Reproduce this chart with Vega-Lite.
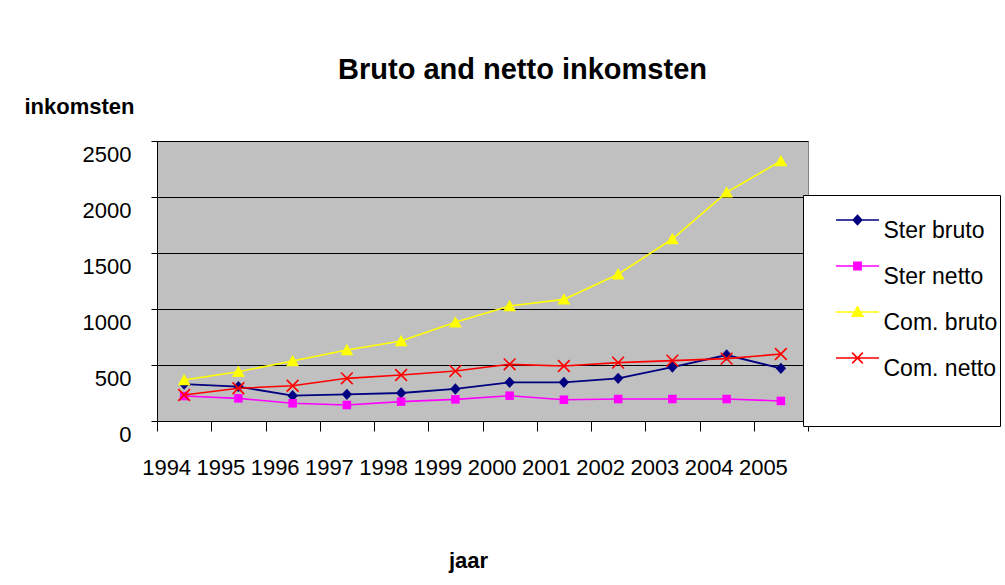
{
  "$schema": "https://vega.github.io/schema/vega-lite/v6.json",
  "width": 651,
  "height": 280,
  "autosize": {"type": "none"},
  "padding": {"left": 157, "top": 141, "right": 197, "bottom": 164},
  "background": "white",
  "config": {
    "font": "Liberation Sans",
    "view": {"fill": "#c0c0c0", "stroke": "#808080", "strokeWidth": 1}
  },
  "title": {
    "text": "Bruto and netto inkomsten",
    "fontSize": 29,
    "fontWeight": "bold",
    "font": "Liberation Sans",
    "color": "black",
    "anchor": "middle",
    "frame": "group",
    "dx": 40,
    "baseline": "alphabetic",
    "offset": -13
  },
  "data": {
    "values": [
      {"year": 1994, "series": "Ster bruto", "value": 330},
      {"year": 1995, "series": "Ster bruto", "value": 307},
      {"year": 1996, "series": "Ster bruto", "value": 226},
      {"year": 1997, "series": "Ster bruto", "value": 238},
      {"year": 1998, "series": "Ster bruto", "value": 250},
      {"year": 1999, "series": "Ster bruto", "value": 286},
      {"year": 2000, "series": "Ster bruto", "value": 345},
      {"year": 2001, "series": "Ster bruto", "value": 345},
      {"year": 2002, "series": "Ster bruto", "value": 381},
      {"year": 2003, "series": "Ster bruto", "value": 482},
      {"year": 2004, "series": "Ster bruto", "value": 589},
      {"year": 2005, "series": "Ster bruto", "value": 470},
      {"year": 1994, "series": "Ster netto", "value": 223},
      {"year": 1995, "series": "Ster netto", "value": 202},
      {"year": 1996, "series": "Ster netto", "value": 158},
      {"year": 1997, "series": "Ster netto", "value": 143},
      {"year": 1998, "series": "Ster netto", "value": 173},
      {"year": 1999, "series": "Ster netto", "value": 193},
      {"year": 2000, "series": "Ster netto", "value": 226},
      {"year": 2001, "series": "Ster netto", "value": 190},
      {"year": 2002, "series": "Ster netto", "value": 196},
      {"year": 2003, "series": "Ster netto", "value": 196},
      {"year": 2004, "series": "Ster netto", "value": 196},
      {"year": 2005, "series": "Ster netto", "value": 179},
      {"year": 1994, "series": "Com. bruto", "value": 366},
      {"year": 1995, "series": "Com. bruto", "value": 440},
      {"year": 1996, "series": "Com. bruto", "value": 536},
      {"year": 1997, "series": "Com. bruto", "value": 634},
      {"year": 1998, "series": "Com. bruto", "value": 714},
      {"year": 1999, "series": "Com. bruto", "value": 881},
      {"year": 2000, "series": "Com. bruto", "value": 1027},
      {"year": 2001, "series": "Com. bruto", "value": 1086},
      {"year": 2002, "series": "Com. bruto", "value": 1310},
      {"year": 2003, "series": "Com. bruto", "value": 1625},
      {"year": 2004, "series": "Com. bruto", "value": 2042},
      {"year": 2005, "series": "Com. bruto", "value": 2321},
      {"year": 1994, "series": "Com. netto", "value": 232},
      {"year": 1995, "series": "Com. netto", "value": 292},
      {"year": 1996, "series": "Com. netto", "value": 315},
      {"year": 1997, "series": "Com. netto", "value": 381},
      {"year": 1998, "series": "Com. netto", "value": 411},
      {"year": 1999, "series": "Com. netto", "value": 446},
      {"year": 2000, "series": "Com. netto", "value": 506},
      {"year": 2001, "series": "Com. netto", "value": 491},
      {"year": 2002, "series": "Com. netto", "value": 521},
      {"year": 2003, "series": "Com. netto", "value": 539},
      {"year": 2004, "series": "Com. netto", "value": 557},
      {"year": 2005, "series": "Com. netto", "value": 598}
    ]
  },
  "encoding": {
    "x": {
      "field": "year",
      "type": "ordinal",
      "scale": {"type": "band", "paddingInner": 0, "paddingOuter": 0},
      "axis": {
        "title": "jaar",
        "titleFontSize": 22,
        "titleFontWeight": "bold",
        "titleColor": "black",
        "titleX": 311,
        "titleY": 146,
        "titleAlign": "center",
        "titleBaseline": "alphabetic",
        "tickBand": "extent",
        "tickSize": 10,
        "tickColor": "black",
        "domainColor": "black",
        "labelFontSize": 22,
        "labelColor": "black",
        "labelAngle": 0,
        "labelOffset": -18,
        "labelPadding": 26,
        "labelOverlap": false,
        "grid": false
      }
    },
    "y": {
      "field": "value",
      "type": "quantitative",
      "scale": {"domain": [0, 2500], "nice": false},
      "axis": {
        "title": "inkomsten",
        "titleAngle": 0,
        "titleX": -78,
        "titleY": -28,
        "titleAlign": "center",
        "titleBaseline": "alphabetic",
        "titleFontSize": 22,
        "titleFontWeight": "bold",
        "titleColor": "black",
        "values": [0, 500, 1000, 1500, 2000, 2500],
        "format": "d",
        "grid": true,
        "gridColor": "black",
        "gridWidth": 1,
        "tickSize": 6,
        "tickColor": "black",
        "domainColor": "black",
        "labelFontSize": 22,
        "labelColor": "black",
        "labelOffset": 13,
        "labelPadding": 20
      }
    }
  },
  "layer": [
    {
      "transform": [{"filter": "datum.series == 'Ster bruto'"}],
      "mark": {"type": "line", "strokeWidth": 1.8, "color": "#000080",
        "point": {"filled": true, "opacity": 1, "size": 90, "color": "#000080", "shape": "M0,-1.2L1.1,0L0,1.2L-1.1,0Z"}}
    },
    {
      "transform": [{"filter": "datum.series == 'Ster netto'"}],
      "mark": {"type": "line", "strokeWidth": 1.6, "color": "#ff00ff",
        "point": {"filled": true, "opacity": 1, "size": 90, "color": "#ff00ff", "shape": "M-0.9,-0.9L0.9,-0.9L0.9,0.9L-0.9,0.9Z"}}
    },
    {
      "transform": [{"filter": "datum.series == 'Com. bruto'"}],
      "mark": {"type": "line", "strokeWidth": 1.6, "color": "#ffff00",
        "point": {"filled": true, "opacity": 1, "size": 90, "color": "#ffff00", "shape": "M0,-1.3L1.35,1.1L-1.35,1.1Z"}}
    },
    {
      "transform": [{"filter": "datum.series == 'Com. netto'"}],
      "mark": {"type": "line", "strokeWidth": 1.6, "color": "#ff0000",
        "point": {"filled": false, "opacity": 1, "size": 70, "strokeWidth": 1.6, "color": "#ff0000", "shape": "M-1.4,-1.4L1.4,1.4M-1.4,1.4L1.4,-1.4"}}
    },
    {
      "mark": {"type": "point", "filled": true, "opacity": 0},
      "encoding": {
        "color": {
          "field": "series",
          "type": "nominal",
          "scale": {
            "domain": ["Ster bruto", "Ster netto", "Com. bruto", "Com. netto"],
            "range": ["#000080", "#ff00ff", "#ffff00", "#ff0000"]
          },
          "legend": {
            "orient": "none",
            "legendX": 646,
            "legendY": 54,
            "title": " ",
            "titleOrient": "bottom",
            "titleFontSize": 30,
            "titlePadding": 12,
            "fillColor": "white",
            "strokeColor": "black",
            "padding": 2.5,
            "symbolSize": 1849,
            "symbolStrokeWidth": 1.5,
            "symbolOpacity": 1,
            "labelFontSize": 23,
            "labelColor": "black",
            "labelOffset": 33,
            "labelBaseline": "top",
            "labelLimit": 300,
            "rowPadding": -1.4
          }
        },
        "stroke": {
          "field": "series",
          "type": "nominal",
          "scale": {
            "domain": ["Ster bruto", "Ster netto", "Com. bruto", "Com. netto"],
            "range": ["#000080", "#ff00ff", "#ffff00", "#ff0000"]
          },
          "legend": {
            "orient": "none",
            "legendX": 646,
            "legendY": 54,
            "title": " ",
            "titleOrient": "bottom",
            "titleFontSize": 30,
            "titlePadding": 12,
            "fillColor": "white",
            "strokeColor": "black",
            "padding": 2.5,
            "symbolSize": 1849,
            "symbolStrokeWidth": 1.5,
            "symbolOpacity": 1,
            "labelFontSize": 23,
            "labelColor": "black",
            "labelOffset": 33,
            "labelBaseline": "top",
            "labelLimit": 300,
            "rowPadding": -1.4
          }
        },
        "shape": {
          "field": "series",
          "type": "nominal",
          "scale": {
            "domain": ["Ster bruto", "Ster netto", "Com. bruto", "Com. netto"],
            "range": [
              "M0.372,0L2.372,0M1.372,-0.22L1.572,0L1.372,0.22L1.172,0Z",
              "M0.372,0L2.372,0M1.202,-0.17L1.542,-0.17L1.542,0.17L1.202,0.17Z",
              "M0.372,0L2.372,0M1.372,-0.24L1.622,0.2L1.122,0.2Z",
              "M0.372,0L2.372,0M1.122,-0.25L1.622,0.25M1.122,0.25L1.622,-0.25"
            ]
          },
          "legend": {
            "orient": "none",
            "legendX": 646,
            "legendY": 54,
            "title": " ",
            "titleOrient": "bottom",
            "titleFontSize": 30,
            "titlePadding": 12,
            "fillColor": "white",
            "strokeColor": "black",
            "padding": 2.5,
            "symbolSize": 1849,
            "symbolStrokeWidth": 1.5,
            "symbolOpacity": 1,
            "labelFontSize": 23,
            "labelColor": "black",
            "labelOffset": 33,
            "labelBaseline": "top",
            "labelLimit": 300,
            "rowPadding": -1.4
          }
        }
      }
    }
  ]
}
